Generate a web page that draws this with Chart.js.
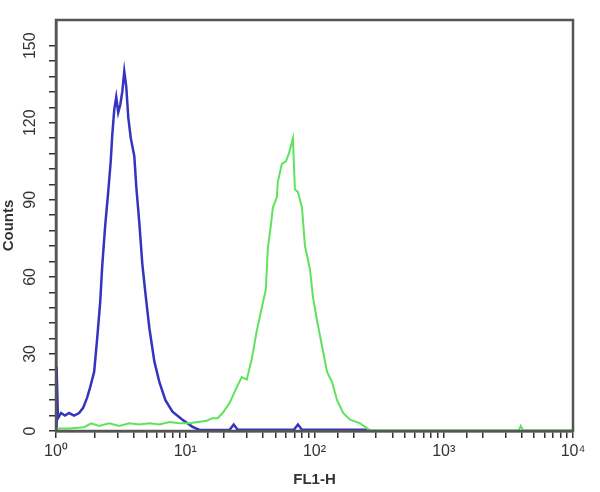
<!DOCTYPE html>
<html>
<head>
<meta charset="utf-8">
<script src="https://cdn.jsdelivr.net/npm/chart.js@4.4.1/dist/chart.umd.min.js"></script>
<style>
  html, body { margin: 0; padding: 0; background: #fff; }
  #wrap { width: 600px; height: 492px; }
</style>
</head>
<body>
<div id="wrap"><canvas id="flow-chart"></canvas></div>
<script>
// FL1-H channel values (log axis) and counts
var blueX = [1.00, 1.01, 1.036, 1.094, 1.175, 1.262, 1.38, 1.509, 1.621, 1.741, 1.837, 1.973, 2.082, 2.196, 2.277, 2.402, 2.534, 2.651, 2.723, 2.822, 2.924, 3.03, 3.142, 3.256, 3.375, 3.497, 3.625, 3.79, 4.035, 4.182, 4.412, 4.655, 4.958, 5.278, 5.771, 6.31, 7.025, 7.962, 9.52, 11.38, 12.9, 22.07, 23.71, 25.46, 69.31, 74.44, 79.98, 255.7];
var blueY = [0, 25, 5, 7, 6, 7, 6, 7, 9, 13, 17, 23, 36, 50, 64, 80, 93, 105, 115, 125, 130, 124, 127, 132, 140, 134, 122, 114, 107, 95, 81, 65, 52, 40, 27, 19, 12, 7.5, 4.4, 1.6, 0.4, 0.5, 2.5, 0.5, 0.5, 2.5, 0.5, 0.5];

var greenX = [1.00, 1.262, 1.65, 1.87, 2.158, 2.58, 3.085, 3.69, 4.412, 5.278, 6.31, 7.545, 9.023, 10.79, 12.9, 14.62, 16.28, 17.81, 19.47, 22.07, 25.01, 27.35, 29.91, 32.7, 35.76, 39.1, 42.01, 43.54, 45.94, 47.62, 51.13, 52.05, 55.92, 60.06, 63.37, 68.08, 70.55, 74.44, 79.98, 84.39, 92.26, 97.34, 104.6, 114.4, 125.1, 136.8, 149.5, 166.5, 188.7, 225.6, 255.7, 269.8, 3807, 3945, 4090, 10000];
var greenY = [1, 1, 1.5, 3, 2, 3, 2, 3, 2.5, 3, 2.5, 3.5, 3, 3, 3.6, 4, 5, 5, 7, 11, 17, 21, 20, 28, 39, 48, 55, 71, 80, 87, 91, 97, 104, 105, 108, 114, 94, 93, 87, 72, 63, 52, 43, 33, 23, 19, 12, 7, 4.4, 3, 1, 0.3, 0.3, 2, 0.3, 0.3];

var decadeLabels = ['10\u2070', '10\u00b9', '10\u00b2', '10\u00b3', '10\u2074'];

function toPoints(xs, ys) {
    return xs.map((x, i) => ({ x: x, y: ys[i] }));
}

// box round the plot area
var frame = {
    id: 'frame',
    afterDraw(chart) {
        var a = chart.chartArea, c = chart.ctx;
        c.save();
        c.strokeStyle = '#555';
        c.lineWidth = 2.5;
        c.strokeRect(a.left, a.top, a.right - a.left, a.bottom - a.top);
        c.restore();
    }
};

var ctx = document.getElementById('flow-chart').getContext('2d');

var flowChart = new Chart(ctx, {
    type: 'line',
    data: {
        datasets: [{
            label: 'FL1-H stained',
            data: toPoints(greenX, greenY),
            borderColor: '#5ee35c',
            borderWidth: 2,
            pointRadius: 0,
            tension: 0,
            order: 0
        }, {
            label: 'FL1-H control',
            data: toPoints(blueX, blueY),
            borderColor: '#3434bf',
            borderWidth: 2.5,
            pointRadius: 0,
            tension: 0,
            order: 1
        }]
    },
    options: {
        responsive: true,
        maintainAspectRatio: false,
        animation: false,
        layout: {
            padding: { top: 20, right: 27, left: 0, bottom: 0 }
        },
        plugins: {
            legend: { display: false },
            tooltip: { enabled: false }
        },
        scales: {
            x: {
                type: 'logarithmic',
                min: 1,
                max: 10000,
                afterFit: s => { s.height = 61; },
                grid: { drawOnChartArea: false, tickLength: 7, color: '#333', lineWidth: 1.5 },
                border: { color: '#444', width: 2.5 },
                ticks: {
                    autoSkip: false,
                    maxRotation: 0,
                    padding: 4,
                    color: '#333',
                    font: { family: 'Liberation Sans, Arial, sans-serif', size: 16 },
                    callback: value => {
                        var e = Math.log10(value);
                        return Math.abs(e - Math.round(e)) < 1e-9 ? decadeLabels[Math.round(e)] : '';
                    }
                },
                title: {
                    display: true,
                    text: 'FL1-H',
                    color: '#333',
                    padding: { top: 0, bottom: 3 },
                    font: { family: 'Liberation Sans, Arial, sans-serif', size: 15, weight: 'bold' }
                }
            },
            y: {
                min: 0,
                max: 160,
                afterFit: s => { s.width = 56; },
                afterBuildTicks: s => { s.ticks = s.ticks.filter(t => t.value % 6 === 0); },
                grid: { drawOnChartArea: false, tickLength: 7, color: '#333', lineWidth: 1.5 },
                border: { color: '#444', width: 2.5 },
                ticks: {
                    stepSize: 6,
                    autoSkip: false,
                    minRotation: 90,
                    maxRotation: 90,
                    crossAlign: 'center',
                    padding: 5,
                    color: '#333',
                    font: { family: 'Liberation Sans, Arial, sans-serif', size: 16 },
                    callback: value => value % 30 === 0 ? String(value) : ''
                },
                title: {
                    display: true,
                    text: 'Counts',
                    color: '#333',
                    padding: 0,
                    font: { family: 'Liberation Sans, Arial, sans-serif', size: 15, weight: 'bold' }
                }
            }
        }
    },
    plugins: [frame]
});
</script>
</body>
</html>
